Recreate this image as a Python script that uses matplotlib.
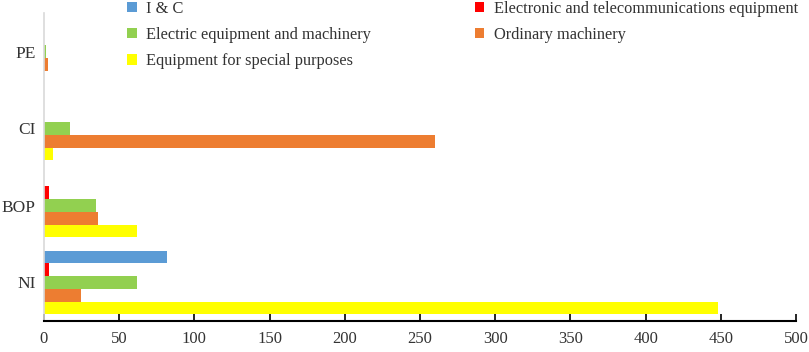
import matplotlib
matplotlib.use("Agg")
import matplotlib.pyplot as plt
import numpy as np

categories = ["NI", "BOP", "CI", "PE"]
series_names = ["I & C", "Electronic and telecommunications equipment",
                "Electric equipment and machinery", "Ordinary machinery",
                "Equipment for special purposes"]
i_and_c = [82, 0, 0, 0]
electronic = [3, 3, 0, 0]
electric = [62, 34.5, 17, 1]
ordinary = [24.5, 36, 260, 2.5]
special = [448, 62, 6, 0]
x_ticks = [0, 50, 100, 150, 200, 250, 300, 350, 400, 450, 500]

colors = ["#5B9BD5", "#FF0000", "#92D050", "#ED7D31", "#FFFF00"]
data = [i_and_c, electronic, electric, ordinary, special]

plt.rcParams['font.family'] = ['Liberation Serif', 'DejaVu Serif']

fig = plt.figure(figsize=(8.09, 3.52), dpi=100)
ax = fig.add_axes([44/809, 1-321/352, (796-44)/809, (321-13)/352])

y = np.arange(len(categories))
h = 0.165
handles = []
for k, (vals, c, name) in enumerate(zip(data, colors, series_names)):
    off = (2 - k) * h
    b = ax.barh(y + off, vals, height=h, color=c, label=name)
    handles.append(b)

ax.set_ylim(-0.5, 3.5)
ax.set_xlim(0, 500)
ax.set_xticks(x_ticks)
ax.set_yticks(y)
ax.set_yticklabels(categories)
ax.tick_params(axis='y', length=0, pad=6, labelsize=12.5, colors='#333333')
ax.tick_params(axis='x', direction='in', length=5, width=1.2, pad=7, labelsize=12,
               colors='black', labelcolor='#333333')
for s in ['top', 'right']:
    ax.spines[s].set_visible(False)
ax.spines['left'].set_color('#D9D9D9')
ax.spines['left'].set_linewidth(1.2)
ax.spines['bottom'].set_color('black')
ax.spines['bottom'].set_linewidth(1.5)

order = [0, 2, 4, 1, 3]
leg = fig.legend([handles[i] for i in order], [series_names[i] for i in order],
                 ncol=2, loc='upper left', bbox_to_anchor=(126/809, 1.0),
                 frameon=False, fontsize=11.8, handlelength=0.6, handleheight=0.6,
                 handletextpad=0.6, columnspacing=6.3, labelspacing=0.62,
                 borderaxespad=0, borderpad=0.05, labelcolor='#333333')

fig.savefig("out.png", dpi=100)
